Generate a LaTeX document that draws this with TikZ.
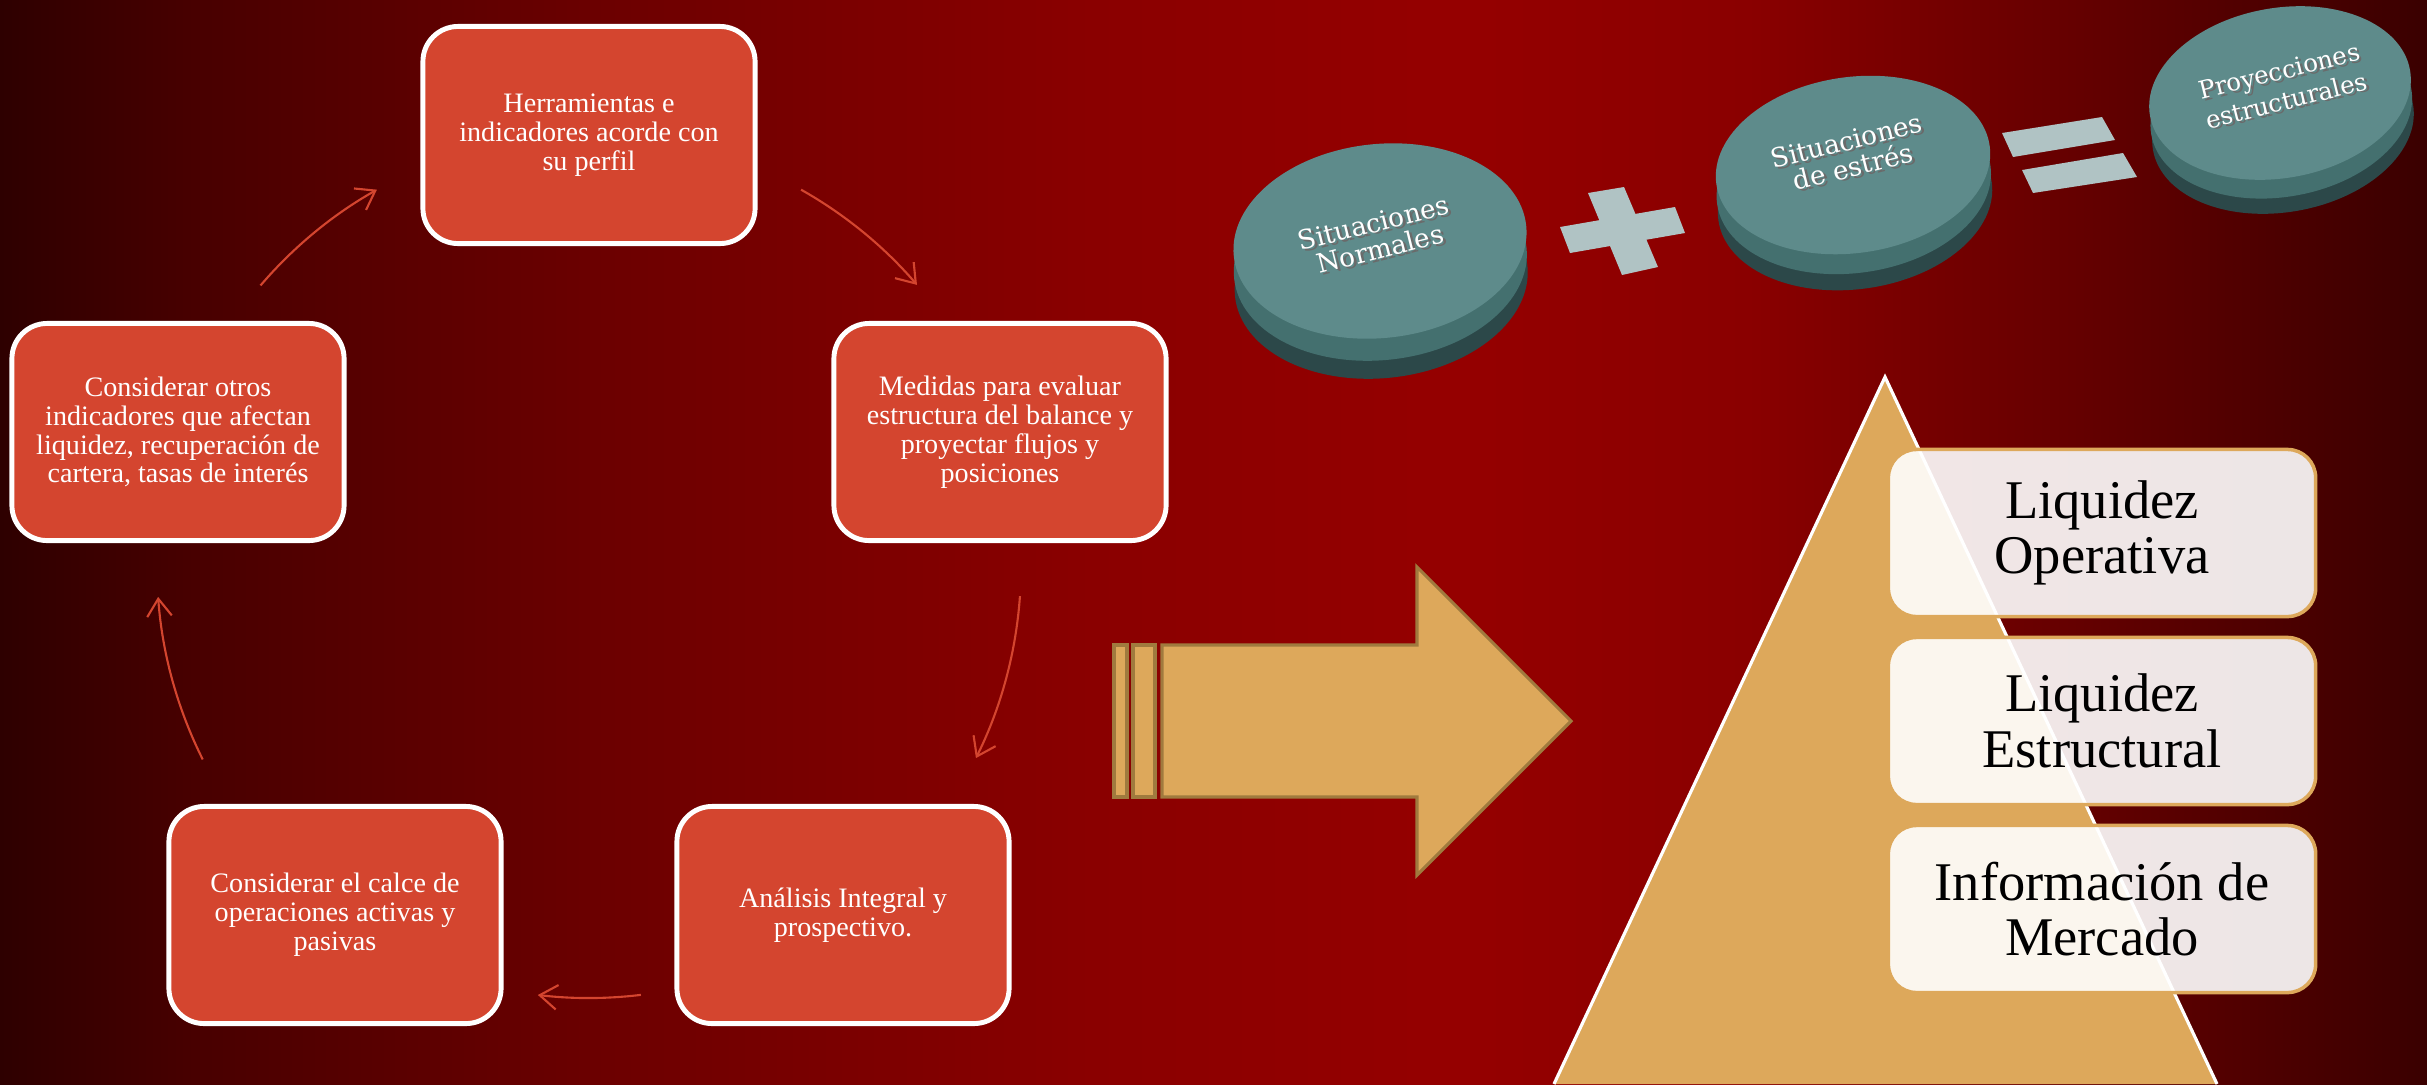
\documentclass[tikz,border=0pt]{standalone}
\usepackage{fontspec}
\setmainfont{Liberation Serif}
\newfontfamily\coinfont{DejaVu Serif}
\usetikzlibrary{arrows.meta}

\definecolor{boxred}{HTML}{D4452F}
\definecolor{pyrtan}{HTML}{DDA85B}
\definecolor{arrowedge}{HTML}{A07A3E}
\definecolor{cointop}{HTML}{5E8B8B}
\definecolor{coinrim}{HTML}{44706F}
\definecolor{coinside}{HTML}{2C4849}
\definecolor{signgrey}{HTML}{B0C3C4}
\definecolor{coinshadow}{HTML}{6A6A6A}
\definecolor{bgA}{HTML}{2E0000}
\definecolor{bgB}{HTML}{480000}
\definecolor{bgC}{HTML}{6C0000}
\definecolor{bgD}{HTML}{8A0000}
\definecolor{bgE}{HTML}{950000}
\definecolor{bgF}{HTML}{8A0000}
\definecolor{bgG}{HTML}{660000}
\definecolor{bgH}{HTML}{3A0000}

% background glow, left dark -> red -> right dark
\pgfdeclarehorizontalshading{redglow}{100bp}{color(0bp)=(bgA); color(25bp)=(bgA); color(29bp)=(bgB);
  color(37.5bp)=(bgC); color(47.5bp)=(bgD); color(55bp)=(bgE); color(61bp)=(bgF);
  color(67.5bp)=(bgG); color(75bp)=(bgH); color(100bp)=(bgH)}

% white text with a grey drop shadow
\newcommand\coinline[1]{\leavevmode\rlap{\kern0.7pt\raisebox{-0.7pt}{\textcolor{coinshadow}{#1}}}#1}

\begin{document}
\begin{tikzpicture}[
    x=0.01cm, y=-0.01cm,
    cyclebox/.style={draw=white, line width=1.4pt, fill=boxred, rounded corners=10pt,
      minimum width=3.32cm, minimum height=2.17cm, align=center, text=white,
      font=\fontsize{8}{8.2}\selectfont},
    cyclearrow/.style={draw=boxred, line width=0.6pt, -{Straight Barb[length=5pt,width=7pt]}},
    levelbox/.style={draw=pyrtan, line width=1pt, fill=white, fill opacity=0.9, text opacity=1,
      rounded corners=8pt, minimum width=4.27cm, minimum height=1.67cm, align=center,
      font=\fontsize{15.5}{15.8}\selectfont},
    cointext/.style={text=white, align=center, rotate=14, font=\coinfont\fontsize{7.5}{7.6}\selectfont}
]
\useasboundingbox (0,0) rectangle (2427,1084);
\shade[shading=redglow] (0,0) rectangle (2427,1084);

% cycle of boxes
\node[cyclebox] (tools) at (589,135) {Herramientas e\\indicadores acorde con\\su perfil};
\node[cyclebox] (measures) at (1000,432) {Medidas para evaluar\\estructura del balance y\\proyectar flujos y\\posiciones};
\node[cyclebox] (analysis) at (843,915) {Análisis Integral y\\prospectivo.};
\node[cyclebox] (match) at (335,915) {Considerar el calce de\\operaciones activas y\\pasivas};
\node[cyclebox] (others) at (178,432) {Considerar otros\\indicadores que afectan\\liquidez, recuperación de\\cartera, tasas de interés};

\coordinate (hub) at (589,566);
\foreach \sa/\ea in {-139.5/-119.4, -60.6/-40.6, 4/26.4, 83.1/96.8, 153.4/175.9}
  \draw[cyclearrow] ([shift={(\sa:432)}]hub) arc[start angle=\sa, end angle=\ea, radius=432];

% coins
\foreach \cx/\cy/\rx/\ry/\dep/\tilt in {1380/241/147/97/40/6, 1853/165/138/88/36/8, 2280/93/132/85/34/10}{
  \fill[coinside, rotate around={\tilt:(\cx,\cy)}] (\cx-3,\cy+\dep) ellipse[x radius=\rx, y radius=\ry];
  \fill[coinrim, rotate around={\tilt:(\cx,\cy)}] (\cx-2,\cy+0.55*\dep) ellipse[x radius=\rx, y radius=\ry];
  \fill[cointop, rotate around={\tilt:(\cx,\cy)}] (\cx,\cy) ellipse[x radius=\rx, y radius=\ry];
}
\node[cointext] (normal) at (1377,237) {\coinline{Situaciones}\\\coinline{Normales}};
\node[cointext] (stress) at (1850,155) {\coinline{Situaciones}\\\coinline{de estrés}};
\node[cointext, font=\coinfont\fontsize{7}{7.2}\selectfont] (proj) at (2283,87) {\coinline{Proyecciones}\\\coinline{estructurales}};

% plus and equal signs
\fill[signgrey] (1560,227) -- (1675,207) -- (1685,233) -- (1570,253) -- cycle;
\fill[signgrey] (1588,193) -- (1624,187) -- (1658,267) -- (1622,275) -- cycle;
\fill[signgrey] (2002,133) -- (2102,117) -- (2115,140) -- (2013,157) -- cycle;
\fill[signgrey] (2022,170) -- (2123,153) -- (2137,177) -- (2033,193) -- cycle;

% big arrow
\draw[fill=pyrtan, draw=arrowedge, line width=0.9pt] (1114,645) rectangle (1127,797);
\draw[fill=pyrtan, draw=arrowedge, line width=0.9pt] (1133,645) rectangle (1155,797);
\draw[fill=pyrtan, draw=arrowedge, line width=0.9pt] (1162,645) -- (1417,645) -- (1417,567) -- (1571,721)
  -- (1417,875) -- (1417,797) -- (1162,797) -- cycle;

% pyramid
\fill[pyrtan] (1885,377) -- (1554,1084) -- (2217,1084) -- cycle;
\draw[white, line width=0.9pt] (1554,1084) -- (1885,377) -- (2217,1084);

\node[levelbox] (opliq) at (2102,533) {Liquidez\\Operativa};
\node[levelbox] (strliq) at (2102,721) {Liquidez\\Estructural};
\node[levelbox] (mktinfo) at (2102,909) {Información de\\Mercado};

\end{tikzpicture}
\end{document}
